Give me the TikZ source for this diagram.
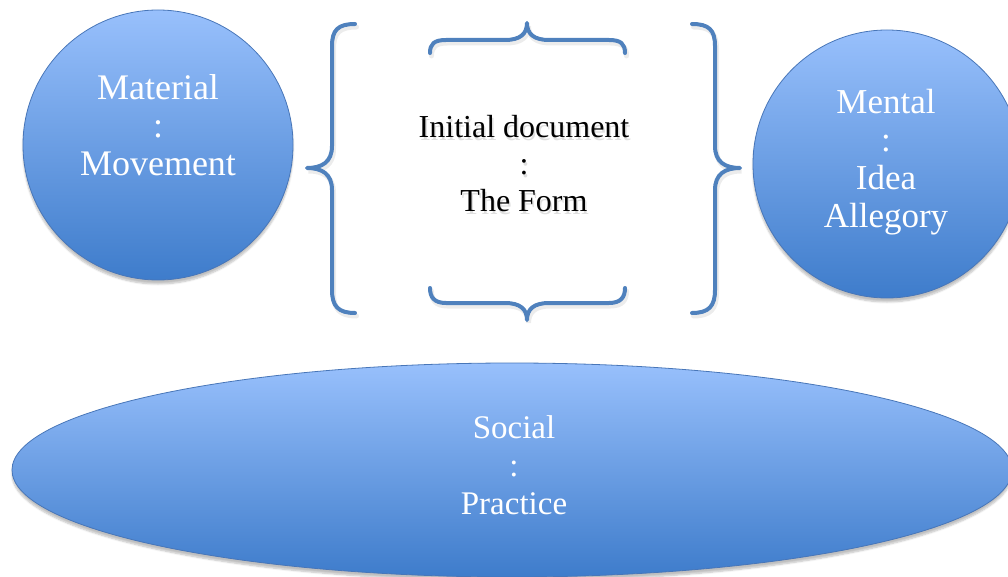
\documentclass[tikz,border=0pt]{standalone}
\usepackage{fontspec}
\setmainfont{Liberation Serif}
\usetikzlibrary{shapes.geometric,shadows.blur}

\definecolor{bluetop}{RGB}{152,192,252}
\definecolor{bluebottom}{RGB}{62,124,203}
\definecolor{blueedge}{RGB}{72,118,184}
\definecolor{bracecol}{RGB}{79,129,189}

\tikzset{
  bluebody/.style={draw=blueedge, line width=0.8pt,
    top color=bluetop, bottom color=bluebottom, inner sep=0pt,
    blur shadow={shadow xshift=0pt, shadow yshift=-4pt, shadow blur steps=6, shadow opacity=25}},
  bubble/.style={bluebody, circle, minimum size=#1},
  oval/.style={bluebody, ellipse, minimum width=1000pt, minimum height=214pt},
  bodytext/.style={text=white, align=center, inner sep=0pt, font=\fontsize{#1}{38}\selectfont},
  bracepath/.style={draw=bracecol, line width=4pt, line cap=round, line join=round},
  bracegloom/.style={draw=black!60, line width=5pt, line cap=round, opacity=0.12},
  centretext/.style={align=center, font=\fontsize{32}{37}\selectfont, text=black},
}

\begin{document}
\begin{tikzpicture}[x=1pt,y=-1pt]
  \useasboundingbox (0,0) rectangle (1008,577);
  \clip (0,0) rectangle (1008,577);

  % the three blue bodies
  \node[bubble=270pt] (material) at (158,145) {};
  \node[bodytext=36] (materialtext) at (158,125) {Material\\:\\Movement};
  \node[bubble=268pt] (mental) at (887,164) {};
  \node[bodytext=35] (mentaltext) at (886,162) {Mental\\:\\Idea\\Allegory};
  \node[oval] (social) at (512,470) {};
  \node[bodytext=33] (socialtext) at (514,465) {Social\\:\\Practice};

  % centre text with a soft shadow
  \node[centretext, text=black!25, opacity=0.5] at (525.5,166.5) {Initial document\\:\\The Form};
  \node[centretext] (form) at (524,164) {Initial document\\:\\The Form};

  % braces around the centre text: soft shadows first
  \begin{scope}[shift={(1.5,3)}]
    \path[bracegloom] (355,24) .. controls (338,24) and (332,30) .. (332,46) -- (332,146)
      .. controls (332,162) and (322,168) .. (307,168)
      .. controls (322,168) and (332,174) .. (332,190) -- (332,290)
      .. controls (332,306) and (338,313) .. (355,313);
    \path[bracegloom] (692,24) .. controls (709,24) and (715,30) .. (715,46) -- (715,146)
      .. controls (715,162) and (725,168) .. (740,168)
      .. controls (725,168) and (715,174) .. (715,190) -- (715,290)
      .. controls (715,306) and (709,313) .. (692,313);
    \path[bracegloom] (430,53) .. controls (430,44) and (434,40) .. (446,40) -- (505,40)
      .. controls (520,40) and (527,34) .. (527,23)
      .. controls (527,34) and (534,40) .. (549,40) -- (609,40)
      .. controls (621,40) and (625,44) .. (625,53);
    \path[bracegloom] (430,288) .. controls (430,297) and (434,303) .. (446,303) -- (505,303)
      .. controls (520,303) and (527,309) .. (527,320)
      .. controls (527,309) and (534,303) .. (549,303) -- (609,303)
      .. controls (621,303) and (625,297) .. (625,288);
  \end{scope}

  % left brace
  \path[bracepath] (355,24) .. controls (338,24) and (332,30) .. (332,46) -- (332,146)
    .. controls (332,162) and (322,168) .. (307,168)
    .. controls (322,168) and (332,174) .. (332,190) -- (332,290)
    .. controls (332,306) and (338,313) .. (355,313);
  % right brace
  \path[bracepath] (692,24) .. controls (709,24) and (715,30) .. (715,46) -- (715,146)
    .. controls (715,162) and (725,168) .. (740,168)
    .. controls (725,168) and (715,174) .. (715,190) -- (715,290)
    .. controls (715,306) and (709,313) .. (692,313);
  % top brace
  \path[bracepath] (430,53) .. controls (430,44) and (434,40) .. (446,40) -- (505,40)
    .. controls (520,40) and (527,34) .. (527,23)
    .. controls (527,34) and (534,40) .. (549,40) -- (609,40)
    .. controls (621,40) and (625,44) .. (625,53);
  % bottom brace
  \path[bracepath] (430,288) .. controls (430,297) and (434,303) .. (446,303) -- (505,303)
    .. controls (520,303) and (527,309) .. (527,320)
    .. controls (527,309) and (534,303) .. (549,303) -- (609,303)
    .. controls (621,303) and (625,297) .. (625,288);
\end{tikzpicture}
\end{document}
